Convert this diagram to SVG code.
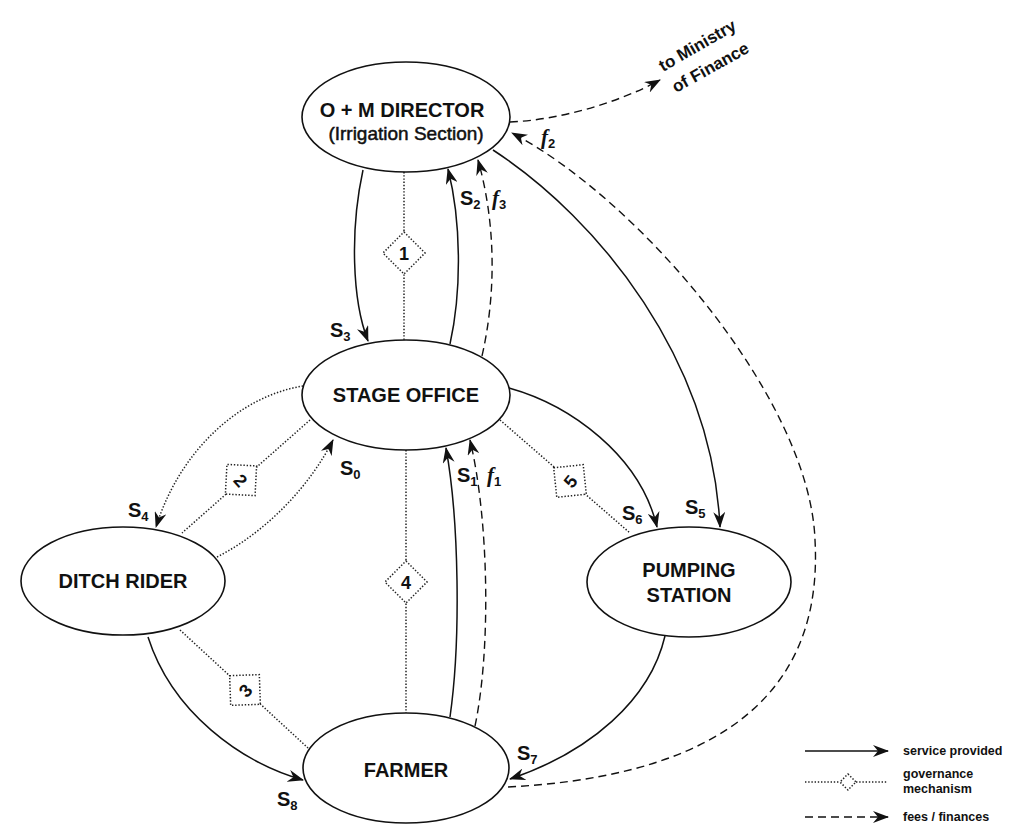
<svg xmlns="http://www.w3.org/2000/svg" width="1015" height="824" viewBox="0 0 1015 824">
<style>
  .node{fill:#fff;stroke:#111;stroke-width:1.6}
  .nt{font-family:"Liberation Sans",Arial,sans-serif;font-weight:bold;font-size:20px;fill:#111;text-anchor:middle}
  .svc{fill:none;stroke:#111;stroke-width:1.5}
  .fee{fill:none;stroke:#111;stroke-width:1.4;stroke-dasharray:8 5}
  .gov{fill:none;stroke:#222;stroke-width:1.5;stroke-dasharray:1.4 1.8}
  .govd{fill:#fff;stroke:#222;stroke-width:1.5;stroke-dasharray:1.4 1.8}
  .dn{font-family:"Liberation Sans",Arial,sans-serif;font-weight:bold;font-size:18px;fill:#111;text-anchor:middle}
  .lb{font-family:"Liberation Sans",Arial,sans-serif;font-weight:bold;font-size:20px;fill:#111}
  .fl{font-family:"Liberation Serif","Times New Roman",serif;font-style:italic;font-weight:bold;font-size:21px;fill:#111}
  .sub{font-family:"Liberation Sans",Arial,sans-serif;font-weight:bold;font-size:13px;font-style:normal}
  .lg{font-family:"Liberation Sans",Arial,sans-serif;font-weight:bold;font-size:12.5px;fill:#111}
  .mn{font-family:"Liberation Sans",Arial,sans-serif;font-weight:bold;font-size:17px;fill:#111}
</style>
<defs>
  <marker id="ah" viewBox="0 0 16 12" refX="15" refY="6" markerWidth="16" markerHeight="12" markerUnits="userSpaceOnUse" orient="auto">
    <path d="M0,0 L16,6 L0,12 L5,6 Z" fill="#111"/>
  </marker>
</defs>
<rect width="1015" height="824" fill="#fff"/>

<g id="connectors">
  <line class="gov" x1="404" y1="172" x2="404" y2="340"/>
  <line class="gov" x1="406" y1="450" x2="406" y2="713"/>
  <line class="gov" x1="310" y1="420" x2="182" y2="533"/>
  <line class="gov" x1="180" y1="630" x2="308" y2="748"/>
  <line class="gov" x1="500" y1="420" x2="630" y2="533"/>

  <path class="svc" d="M363,170 C350,230 352,300 368,341" marker-end="url(#ah)"/>
  <path class="svc" d="M450,344 C462,290 461,220 448,169" marker-end="url(#ah)"/>
  <path class="fee" d="M482,356 C497,290 495,220 478,160" marker-end="url(#ah)"/>
  <path class="fee" d="M510,122 C560,120 620,102 660,80" marker-end="url(#ah)"/>
  <path class="fee" d="M508,787 C680,778 825,720 815,540 C810,400 640,200 512,133" marker-end="url(#ah)"/>
  <path class="svc" d="M493,150 C600,220 712,360 720,527" marker-end="url(#ah)"/>
  <path class="svc" d="M509,388 C570,405 640,455 657,527" marker-end="url(#ah)"/>
  <path class="gov" d="M303,386 C240,396 180,450 156,527" marker-end="url(#ah)"/>
  <path class="gov" d="M217,557 C270,530 312,482 333,440" marker-end="url(#ah)"/>
  <path class="svc" d="M450,717 C461,640 459,520 446,448" marker-end="url(#ah)"/>
  <path class="fee" d="M475,726 C491,650 489,520 470,440" marker-end="url(#ah)"/>
  <path class="svc" d="M665,636 C650,700 590,752 510,779" marker-end="url(#ah)"/>
  <path class="svc" d="M148,637 C172,712 240,762 303,780" marker-end="url(#ah)"/>

  <g transform="translate(404,253)"><path class="govd" d="M0,-21 L21,0 L0,21 L-21,0 Z"/><text class="dn" y="7">1</text></g>
  <g transform="translate(406,582)"><path class="govd" d="M0,-21 L21,0 L0,21 L-21,0 Z"/><text class="dn" y="7">4</text></g>
  <g transform="translate(241,480) rotate(48)"><path class="govd" d="M0,-21 L21,0 L0,21 L-21,0 Z"/><text class="dn" y="7">2</text></g>
  <g transform="translate(245,690) rotate(-47)"><path class="govd" d="M0,-21 L21,0 L0,21 L-21,0 Z"/><text class="dn" y="7">3</text></g>
  <g transform="translate(570,481) rotate(-51)"><path class="govd" d="M0,-21 L21,0 L0,21 L-21,0 Z"/><text class="dn" y="7">5</text></g>

  <text class="lb" x="330" y="337">S<tspan class="sub" dy="4">3</tspan></text>
  <text class="lb" x="460" y="205">S<tspan class="sub" dy="4">2</tspan></text>
  <text class="fl" x="492" y="205">f<tspan class="sub" dy="4">3</tspan></text>
  <text class="fl" x="541" y="144">f<tspan class="sub" dy="4">2</tspan></text>
  <text class="lb" x="340" y="475">S<tspan class="sub" dy="4">0</tspan></text>
  <text class="lb" x="457" y="482">S<tspan class="sub" dy="4">1</tspan></text>
  <text class="fl" x="487" y="482">f<tspan class="sub" dy="4">1</tspan></text>
  <text class="lb" x="128" y="517">S<tspan class="sub" dy="4">4</tspan></text>
  <text class="lb" x="622" y="520">S<tspan class="sub" dy="4">6</tspan></text>
  <text class="lb" x="685" y="514">S<tspan class="sub" dy="4">5</tspan></text>
  <text class="lb" x="517" y="760">S<tspan class="sub" dy="4">7</tspan></text>
  <text class="lb" x="277" y="806">S<tspan class="sub" dy="4">8</tspan></text>

  <text class="mn" transform="translate(663,72) rotate(-30)">to Ministry</text>
  <text class="mn" transform="translate(676,93) rotate(-29)">of Finance</text>
</g>

<g id="director">
  <ellipse class="node" cx="406" cy="117" rx="104" ry="55"/>
  <text class="nt" x="402" y="117">O + M DIRECTOR</text>
  <text class="nt" x="406" y="140" style="font-weight:normal;font-size:19px;stroke:#111;stroke-width:0.5">(Irrigation Section)</text>
</g>
<g id="stage-office">
  <ellipse class="node" cx="406" cy="395" rx="104" ry="55"/>
  <text class="nt" x="406" y="402">STAGE OFFICE</text>
</g>
<g id="ditch-rider">
  <ellipse class="node" cx="123" cy="581" rx="102" ry="54"/>
  <text class="nt" x="123" y="588">DITCH RIDER</text>
</g>
<g id="pumping-station">
  <ellipse class="node" cx="689" cy="582" rx="102" ry="55"/>
  <text class="nt" x="689" y="577">PUMPING</text>
  <text class="nt" x="689" y="602">STATION</text>
</g>
<g id="farmer">
  <ellipse class="node" cx="406" cy="768" rx="103" ry="55"/>
  <text class="nt" x="406" y="777">FARMER</text>
</g>

<g id="legend">
  <line class="svc" x1="805" y1="751" x2="888" y2="751" marker-end="url(#ah)"/>
  <text class="lg" x="903" y="755">service provided</text>
  <line class="gov" x1="805" y1="782" x2="840" y2="782"/>
  <line class="gov" x1="856" y1="782" x2="888" y2="782"/>
  <path class="govd" d="M848,774 L856,782 L848,790 L840,782 Z"/>
  <text class="lg" x="903" y="778">governance</text>
  <text class="lg" x="903" y="793">mechanism</text>
  <line class="fee" x1="805" y1="817" x2="888" y2="817" marker-end="url(#ah)"/>
  <text class="lg" x="903" y="821">fees / finances</text>
</g>
</svg>
